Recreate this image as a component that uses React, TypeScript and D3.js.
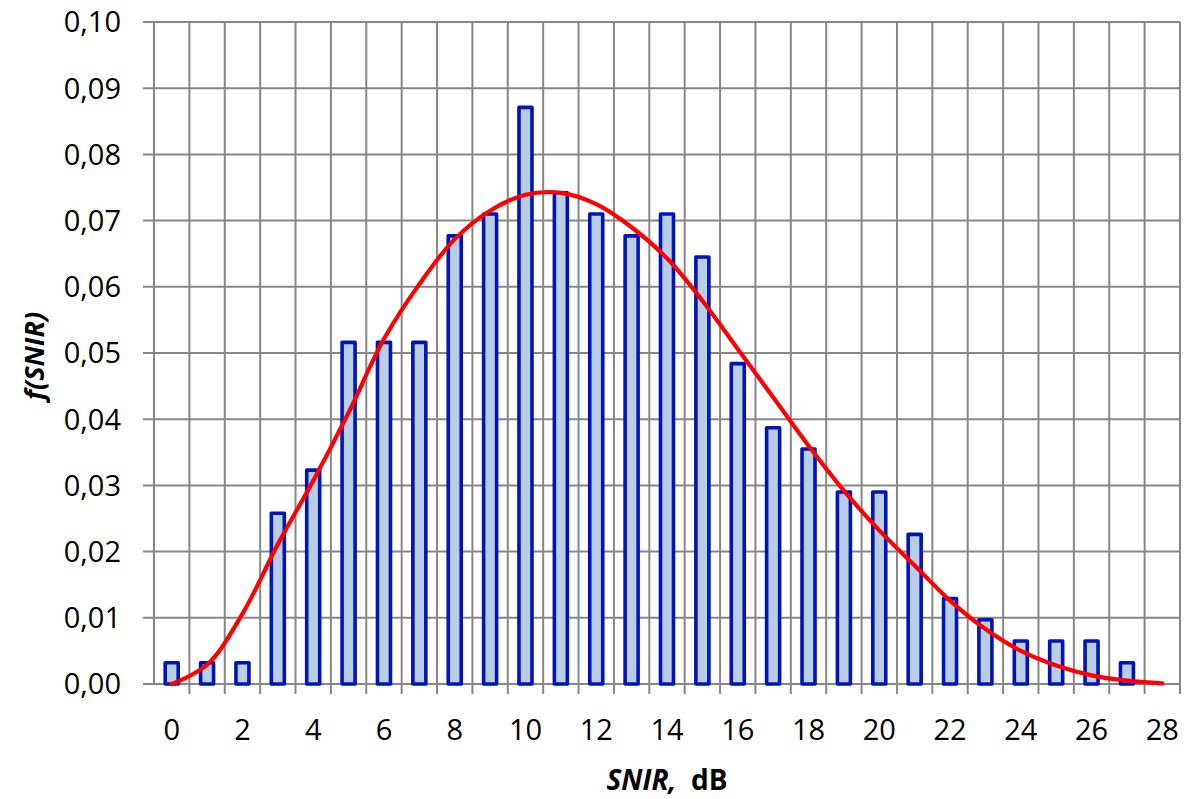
import React from "react";
import * as d3 from "d3";

const categories: number[] = d3.range(0, 29);
const barValues: number[] = [
  0.0032, 0.0032, 0.0032, 0.0258, 0.0323, 0.0516, 0.0516, 0.0516, 0.0677, 0.071,
  0.0871, 0.0742, 0.071, 0.0677, 0.071, 0.0645, 0.0484, 0.0387, 0.0355, 0.029,
  0.029, 0.0226, 0.0129, 0.0097, 0.0065, 0.0065, 0.0065, 0.0032, 0,
];
const curveValues: number[] = [
  0, 0.0029, 0.0106, 0.0211, 0.0307, 0.041, 0.0521, 0.0604, 0.0672, 0.0715,
  0.0739, 0.0742, 0.0725, 0.069, 0.0643, 0.0579, 0.0506, 0.0433, 0.036, 0.0292,
  0.0232, 0.0179, 0.0126, 0.0083, 0.005, 0.0028, 0.0013, 0.0005, 0.0001,
];
const yTicks: number[] = [0, 0.01, 0.02, 0.03, 0.04, 0.05, 0.06, 0.07, 0.08, 0.09, 0.1];
const xLabels: number[] = [0, 2, 4, 6, 8, 10, 12, 14, 16, 18, 20, 22, 24, 26, 28];

const W = 1184;
const H = 799;
const left = 154;
const right = 1180;
const top = 22;
const bottom = 684;
const FONT = "'Open Sans', 'DejaVu Sans', sans-serif";
const GRID = "#878787";

export default function App() {
  const x = d3.scaleBand<number>().domain(categories).range([left, right]).padding(0);
  const y = d3.scaleLinear().domain([0, 0.1]).range([bottom, top]);
  const bw = x.bandwidth();
  const barW = 13;
  const fmt = (v: number) => d3.format(".2f")(v).replace(".", ",");
  const line = d3
    .line<number>()
    .x((_, i) => (x(categories[i]) as number) + bw / 2)
    .y((d) => y(d))
    .curve(d3.curveCatmullRom.alpha(0.5));
  const boundaries = d3.range(0, categories.length + 1).map((i) => left + i * bw);

  return (
    <svg
      width={W}
      height={H}
      style={{ position: "absolute", left: 0, top: 0, background: "#fff" }}
      fontFamily={FONT}
    >
      <rect x={0} y={0} width={W} height={H} fill="#fff" />
      {/* vertical grid */}
      {boundaries.map((bx, i) => (
        <line key={"vg" + i} x1={bx} x2={bx} y1={top} y2={bottom + (i === 0 ? 0 : 10)} stroke={GRID} strokeWidth={2} />
      ))}
      {/* horizontal grid */}
      {yTicks.map((t) => (
        <line key={"hg" + t} x1={left - 11} x2={right} y1={y(t)} y2={y(t)} stroke={GRID} strokeWidth={2} />
      ))}
      <line x1={left} x2={left} y1={top} y2={bottom} stroke={GRID} strokeWidth={2} />
      {/* bars */}
      {categories.map((c, i) =>
        barValues[i] > 0 ? (
          <rect
            key={"b" + c}
            x={(x(c) as number) + bw / 2 - barW / 2}
            y={y(barValues[i])}
            width={barW}
            height={y(0) - y(barValues[i])}
            fill="#B9CDE5"
            stroke="#0014BE"
            strokeWidth={3.6}
            strokeLinejoin="round"
          />
        ) : null
      )}
      {/* fitted curve */}
      <path d={line(curveValues) || ""} fill="none" stroke="#FF0000" strokeWidth={4.2} strokeLinecap="round" />
      {/* y tick labels */}
      {yTicks.map((t) => (
        <text key={"yl" + t} x={121} y={y(t)} dy="0.36em" textAnchor="end" fontSize={29} fill="#000">
          {fmt(t)}
        </text>
      ))}
      {/* x tick labels */}
      {xLabels.map((v) => (
        <text key={"xl" + v} x={(x(v) as number) + bw / 2} y={740} textAnchor="middle" fontSize={29} fill="#000">
          {v}
        </text>
      ))}
      {/* axis titles */}
      <text x={(left + right) / 2} y={790} textAnchor="middle" fontSize={28} fontWeight="bold" fill="#000">
        <tspan fontStyle="italic">SNIR,</tspan>
        <tspan>{"\u00a0 dB"}</tspan>
      </text>
      <text
        transform={`translate(44, ${(top + bottom) / 2 + 3}) rotate(-90)`}
        textAnchor="middle"
        fontSize={27}
        fontWeight="bold"
        fontStyle="italic"
        fill="#000"
      >
        f(SNIR)
      </text>
    </svg>
  );
}
